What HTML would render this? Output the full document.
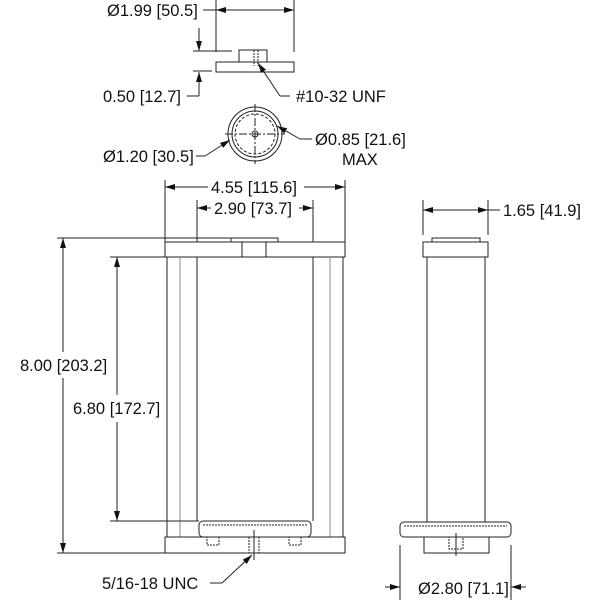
<!DOCTYPE html>
<html><head><style>body{margin:0;background:#fff}svg{display:block}text{font-family:"Liberation Sans",sans-serif;font-size:16.5px;fill:#111}</style></head><body>
<svg width="600" height="600" viewBox="0 0 600 600" xmlns="http://www.w3.org/2000/svg">
<defs><marker id="a" markerWidth="10" markerHeight="6" refX="10" refY="3" orient="auto" markerUnits="userSpaceOnUse"><path d="M0,0L10,3L0,6z" fill="#111"/></marker></defs>
<g stroke="#222" fill="none" stroke-width="1">
<rect x="216" y="62" width="78" height="10"/>
<rect x="239" y="50" width="28" height="12"/>
<line x1="254" y1="50" x2="254" y2="66" stroke-dasharray="2,1"/><line x1="258" y1="50" x2="258" y2="66" stroke-dasharray="2,1"/>
<line x1="216" y1="0" x2="216" y2="52"/><line x1="294" y1="0" x2="294" y2="52"/>
<line x1="203" y1="10" x2="216" y2="10"/>
<line x1="250" y1="10" x2="216" y2="10" marker-end="url(#a)"/><line x1="250" y1="10" x2="294" y2="10" marker-end="url(#a)"/>
<line x1="193" y1="51" x2="232" y2="51"/><line x1="193" y1="71" x2="212" y2="71"/>
<line x1="199" y1="28" x2="199" y2="51" marker-end="url(#a)"/>
<line x1="199" y1="96" x2="199" y2="72" marker-end="url(#a)"/>
<line x1="187" y1="96" x2="199" y2="96"/>
<line x1="290" y1="96" x2="280" y2="96"/><line x1="280" y1="96" x2="258" y2="63" marker-end="url(#a)"/>
<circle cx="255" cy="134" r="27"/><circle cx="255" cy="134" r="23"/><circle cx="255" cy="134" r="20" stroke-dasharray="3,2"/><circle cx="255" cy="134" r="3"/>
<line x1="225" y1="134" x2="285" y2="134" stroke-dasharray="8,2,2,2"/><line x1="255" y1="104" x2="255" y2="164" stroke-dasharray="8,2,2,2"/>
<line x1="196" y1="156" x2="205" y2="156"/><line x1="205" y1="156" x2="230" y2="140" marker-end="url(#a)"/>
<line x1="312" y1="139" x2="300" y2="139"/><line x1="300" y1="139" x2="277" y2="126" marker-end="url(#a)"/>
<line x1="165" y1="180" x2="165" y2="242"/><line x1="345" y1="180" x2="345" y2="242"/>
<line x1="197" y1="200" x2="197" y2="242"/><line x1="313" y1="200" x2="313" y2="242"/>
<line x1="208" y1="187" x2="165" y2="187" marker-end="url(#a)"/><line x1="304" y1="187" x2="345" y2="187" marker-end="url(#a)"/>
<line x1="211" y1="208" x2="197" y2="208" marker-end="url(#a)"/><line x1="299" y1="208" x2="313" y2="208" marker-end="url(#a)"/>
<rect x="165" y="242" width="180" height="15"/>
<rect x="231" y="238" width="47" height="4"/><rect x="242" y="242" width="24" height="15"/>
<line x1="167" y1="257" x2="167" y2="537"/><line x1="180" y1="257" x2="180" y2="537" stroke="#888"/><line x1="197" y1="257" x2="197" y2="521"/>
<line x1="313" y1="257" x2="313" y2="521"/><line x1="330" y1="257" x2="330" y2="537" stroke="#888"/><line x1="343" y1="257" x2="343" y2="537"/>
<rect x="199" y="521" width="112" height="16" rx="4"/><line x1="203" y1="525" x2="307" y2="525" stroke-dasharray="2,1"/>
<rect x="165" y="537" width="180" height="16"/>
<rect x="207" y="537" width="12" height="8" stroke-dasharray="2,1"/><rect x="289" y="537" width="12" height="8" stroke-dasharray="2,1"/>
<line x1="249" y1="537" x2="249" y2="553" stroke-dasharray="2,1"/><line x1="259" y1="537" x2="259" y2="553" stroke-dasharray="2,1"/><line x1="254" y1="530" x2="254" y2="560"/>
<line x1="210" y1="583" x2="222" y2="583"/><line x1="222" y1="583" x2="252" y2="555" marker-end="url(#a)"/>
<line x1="57" y1="238" x2="232" y2="238"/><line x1="57" y1="553" x2="165" y2="553"/>
<line x1="63" y1="352" x2="63" y2="238" marker-end="url(#a)"/><line x1="63" y1="378" x2="63" y2="553" marker-end="url(#a)"/>
<line x1="110" y1="257" x2="165" y2="257"/><line x1="110" y1="521" x2="199" y2="521"/>
<line x1="117" y1="395" x2="117" y2="257" marker-end="url(#a)"/><line x1="117" y1="422" x2="117" y2="521" marker-end="url(#a)"/>
<line x1="423" y1="200" x2="423" y2="235"/><line x1="488" y1="200" x2="488" y2="235"/>
<line x1="455" y1="210" x2="423" y2="210" marker-end="url(#a)"/><line x1="455" y1="210" x2="488" y2="210" marker-end="url(#a)"/><line x1="488" y1="210" x2="500" y2="210"/>
<rect x="432" y="238" width="48" height="4"/><rect x="423" y="242" width="65" height="15"/>
<line x1="427" y1="257" x2="427" y2="522"/><line x1="485" y1="257" x2="485" y2="522"/>
<rect x="400" y="522" width="111" height="15" rx="4"/><line x1="404" y1="526" x2="507" y2="526" stroke-dasharray="2,1"/>
<rect x="424" y="537" width="65" height="16"/>
<rect x="449" y="537" width="14" height="12" stroke-dasharray="2,1"/><line x1="456" y1="533" x2="456" y2="556"/>
<line x1="400" y1="545" x2="400" y2="600"/><line x1="511" y1="545" x2="511" y2="600"/>
<line x1="385" y1="587" x2="400" y2="587" marker-end="url(#a)"/><line x1="526" y1="587" x2="511" y2="587" marker-end="url(#a)"/>
</g>
<text x="107" y="16">Ø1.99 [50.5]</text>
<text x="103" y="102">0.50 [12.7]</text>
<text x="296" y="102">#10-32 UNF</text>
<text x="103" y="162">Ø1.20 [30.5]</text>
<text x="315" y="145">Ø0.85 [21.6]</text>
<text x="342" y="165">MAX</text>
<text x="211" y="193">4.55 [115.6]</text>
<text x="214" y="214">2.90 [73.7]</text>
<text x="503" y="216">1.65 [41.9]</text>
<text x="20" y="371">8.00 [203.2]</text>
<text x="73" y="414">6.80 [172.7]</text>
<text x="102" y="589">5/16-18 UNC</text>
<text x="418" y="594">Ø2.80 [71.1]</text>
</svg>
</body></html>
